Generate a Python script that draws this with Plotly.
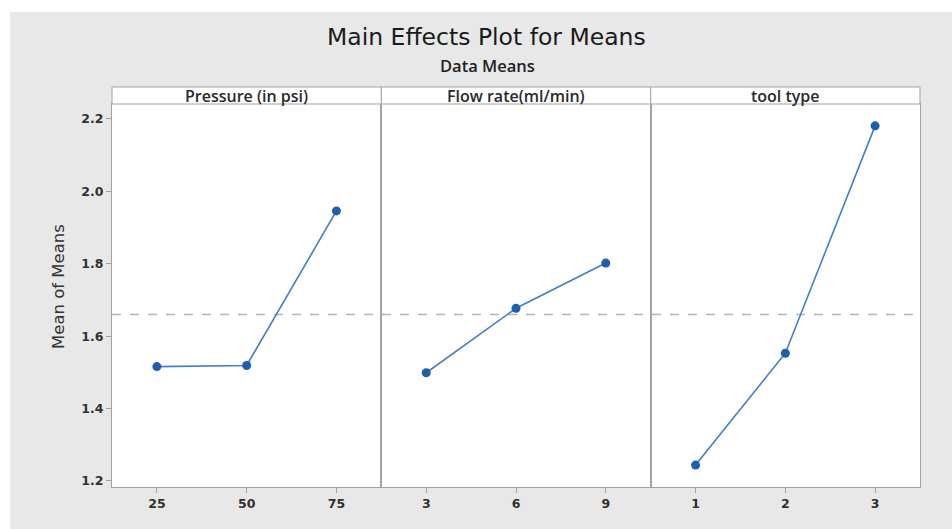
import plotly.graph_objects as go
from plotly.subplots import make_subplots

# ---- data ----
factor_names = ["Pressure (in psi)", "Flow rate(ml/min)", "tool type"]
pressure_levels = ["25", "50", "75"]
pressure_means = [1.516, 1.519, 1.946]
flow_levels = ["3", "6", "9"]
flow_means = [1.499, 1.677, 1.802]
tool_levels = ["1", "2", "3"]
tool_means = [1.244, 1.553, 2.181]
grand_mean = 1.66
y_ticks = [1.2, 1.4, 1.6, 1.8, 2.0, 2.2]

levels = [pressure_levels, flow_levels, tool_levels]
means = [pressure_means, flow_means, tool_means]

W, H = 952, 529
ML, MR, MT, MB = 112, 32, 104, 42
PH = H - MT - MB
PW = W - ML - MR

fig = make_subplots(rows=1, cols=3, shared_yaxes=True, horizontal_spacing=0)

FONT = "DejaVu Sans, sans-serif"
SEMI = "Open Sans, DejaVu Sans, sans-serif"
AXCOL = "#a3a3a3"
TICKFONT = dict(size=12.5, color="#303030", family=FONT, weight="bold")
for i in range(3):
    fig.add_trace(go.Scatter(
        x=levels[i], y=means[i], mode="lines+markers",
        line=dict(color="#3f7fc6", width=1.6),
        marker=dict(color="#1f5eae", size=9),
        showlegend=False, hoverinfo="x+y"), row=1, col=i + 1)
    fig.update_xaxes(type="category", range=[-0.5, 2.5], showline=True,
                     linecolor=AXCOL, linewidth=1, mirror=True,
                     ticks="outside", ticklen=5, tickcolor=AXCOL,
                     showgrid=False, zeroline=False, tickfont=TICKFONT,
                     row=1, col=i + 1)
    fig.update_yaxes(range=[1.1834, 2.2414], showline=True, linecolor=AXCOL,
                     linewidth=1, mirror=True, showgrid=False, zeroline=False,
                     tickvals=y_ticks, ticktext=[f"{v:.1f}" for v in y_ticks],
                     ticks="outside" if i == 0 else "", ticklen=5, tickcolor=AXCOL,
                     showticklabels=(i == 0), tickfont=TICKFONT,
                     row=1, col=i + 1)

# outer grey frame (drawn first, beneath everything)
fig.add_shape(type="rect", xref="paper", yref="paper",
              x0=(10 - ML) / PW, x1=(W - ML) / PW + 0.01,
              y0=-MB / PH - 0.01, y1=(H - MB - 12) / PH,
              fillcolor="#e8e8e8", line=dict(width=0), layer="below")
# white panel background
fig.add_shape(type="rect", xref="paper", yref="paper", x0=0, x1=1, y0=0, y1=1,
              fillcolor="white", line=dict(width=0), layer="below")

# grand mean reference line
fig.add_shape(type="line", xref="paper", yref="y", x0=0, x1=1,
              y0=grand_mean, y1=grand_mean,
              line=dict(color="#b4b4b4", width=1.5, dash="dash"), layer="below")

# strip headers
strip_h = 17 / PH
xdoms = ["x domain", "x2 domain", "x3 domain"]
for i in range(3):
    fig.add_shape(type="rect", xref=xdoms[i], yref="paper",
                  x0=0, x1=1, y0=1, y1=1 + strip_h,
                  fillcolor="white", line=dict(color=AXCOL, width=1),
                  layer="above")
    xc = (i + 0.5) / 3
    fig.add_annotation(text=factor_names[i], xref="paper", yref="paper",
                       x=xc, y=1 + strip_h / 2, showarrow=False,
                       font=dict(size=16, color="#2a2a2a", family=SEMI, weight=600),
                       xanchor="center", yanchor="middle")

# titles
fig.add_annotation(text="Main Effects Plot for Means", xref="paper", yref="paper",
                   x=(486 - ML) / PW, y=(H - MB - 37) / PH,
                   showarrow=False, xanchor="center", yanchor="middle",
                   font=dict(size=23.5, color="#1a1a1a", family=FONT))
fig.add_annotation(text="Data Means", xref="paper", yref="paper",
                   x=(487 - ML) / PW, y=(H - MB - 65) / PH,
                   showarrow=False, xanchor="center", yanchor="middle",
                   font=dict(size=16.5, color="#222222", family=SEMI, weight=600))
fig.add_annotation(text="Mean of Means", xref="paper", yref="paper",
                   x=(58 - ML) / PW, y=(H - MB - 287) / PH,
                   showarrow=False, textangle=-90, xanchor="center", yanchor="middle",
                   font=dict(size=16.5, color="#333333", family=FONT))

fig.update_layout(width=W, height=H, margin=dict(l=ML, r=MR, t=MT, b=MB),
                  paper_bgcolor="white", plot_bgcolor="white",
                  font=dict(family=FONT))

fig.write_html("out.html")
